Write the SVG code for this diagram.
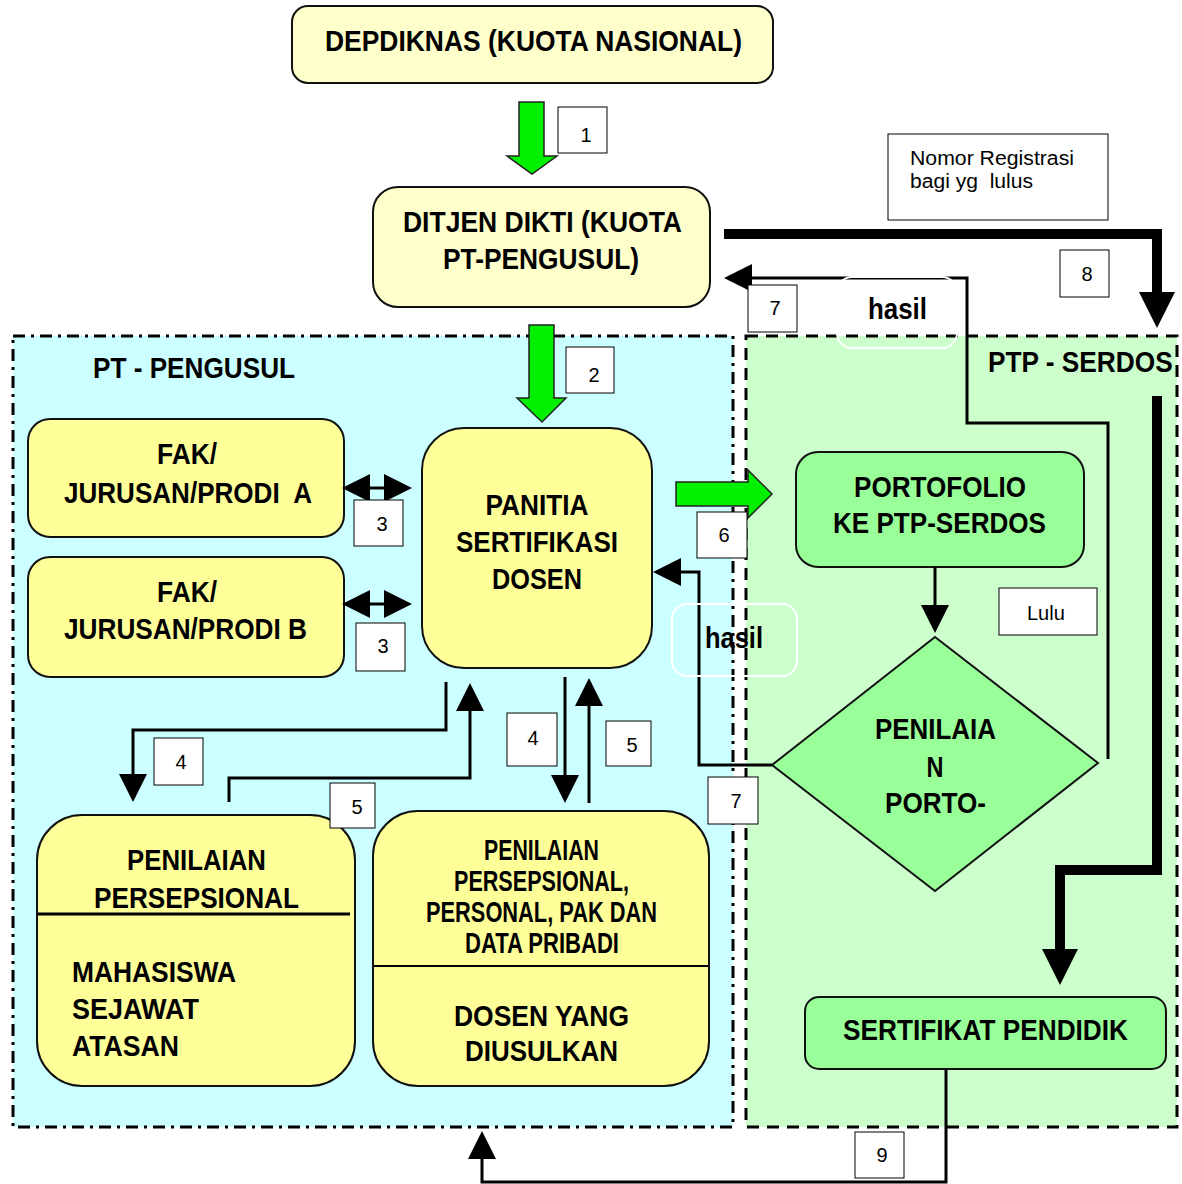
<svg xmlns="http://www.w3.org/2000/svg" width="1182" height="1184" viewBox="0 0 1182 1184">
<style>
.t{font-family:"Liberation Sans",Arial,sans-serif;font-weight:bold;font-size:30px;fill:#000;white-space:pre}
.s{font-family:"Liberation Sans",Arial,sans-serif;font-size:20px;fill:#000}
.lb{fill:#fff;stroke:#000;stroke-width:1}
.ny{fill:#FFFFCC;stroke:#111;stroke-width:2}
.y{fill:#FFFF99;stroke:#111;stroke-width:2}
.g{fill:#99FF99;stroke:#111;stroke-width:2}
.ln{fill:none;stroke:#000;stroke-width:3}
.thick{fill:none;stroke:#000;stroke-width:10}
.ga{fill:#00F000;stroke:#222;stroke-width:1.5}
.hb{fill:none;stroke:#fff;stroke-width:2}
</style>
<defs>
<marker id="ah" markerUnits="userSpaceOnUse" markerWidth="28" markerHeight="28" refX="24" refY="14" orient="auto-start-reverse" viewBox="0 0 28 28">
<path d="M0,0 L28,14 L0,28 z" fill="#000"/>
</marker>
<marker id="ahb" markerUnits="userSpaceOnUse" markerWidth="36" markerHeight="36" refX="26" refY="18" orient="auto" viewBox="0 0 36 36">
<path d="M0,0 L36,18 L0,36 z" fill="#000"/>
</marker>
</defs>

<g id="region-pt">
<rect x="13" y="336" width="720" height="791" fill="#CCFFFF" stroke="#000" stroke-width="3" stroke-dasharray="12,6,3,6"/>
<text class="t" x="93" y="378" font-size="29" textLength="202" lengthAdjust="spacingAndGlyphs">PT - PENGUSUL</text>
</g>
<g id="region-ptp">
<rect x="746" y="336" width="431" height="791" fill="#CCFFCC" stroke="#000" stroke-width="3" stroke-dasharray="12,8"/>
<text class="t" transform="translate(988,372) scale(0.875,1)" x="0" y="0" font-size="29">PTP - SERDOS</text>
</g>

<g id="node-depdiknas">
<rect class="ny" x="292" y="6" width="481" height="77" rx="16"/>
<text class="t" x="533.5" y="51" font-size="31" text-anchor="middle" textLength="417" lengthAdjust="spacingAndGlyphs">DEPDIKNAS (KUOTA NASIONAL)</text>
</g>
<g id="node-ditjen">
<rect class="ny" x="373" y="187" width="337" height="120" rx="25"/>
<text class="t" x="542.5" y="232" text-anchor="middle" textLength="279" lengthAdjust="spacingAndGlyphs">DITJEN DIKTI (KUOTA</text>
<text class="t" x="541" y="269" text-anchor="middle" textLength="196" lengthAdjust="spacingAndGlyphs">PT-PENGUSUL)</text>
</g>
<g id="node-nomor">
<rect class="lb" x="888" y="134" width="220" height="86"/>
<text class="s" x="910" y="165" font-size="19" textLength="164" lengthAdjust="spacingAndGlyphs">Nomor Registrasi</text>
<text class="s" x="910" y="188" font-size="19" textLength="123" lengthAdjust="spacingAndGlyphs" style="white-space:pre">bagi yg  lulus</text>
</g>
<g id="node-fak-a">
<rect class="y" x="28" y="419" width="316" height="118" rx="22"/>
<text class="t" x="187" y="464" text-anchor="middle" textLength="60" lengthAdjust="spacingAndGlyphs">FAK/</text>
<text class="t" x="64" y="503" textLength="248" lengthAdjust="spacingAndGlyphs">JURUSAN/PRODI  A</text>
</g>
<g id="node-fak-b">
<rect class="y" x="28" y="557" width="316" height="120" rx="22"/>
<text class="t" x="187" y="602" text-anchor="middle" textLength="60" lengthAdjust="spacingAndGlyphs">FAK/</text>
<text class="t" x="64" y="639" textLength="243" lengthAdjust="spacingAndGlyphs">JURUSAN/PRODI B</text>
</g>
<g id="node-panitia">
<rect class="y" x="422" y="428" width="230" height="240" rx="42"/>
<text class="t" x="537" y="515" text-anchor="middle" textLength="103" lengthAdjust="spacingAndGlyphs">PANITIA</text>
<text class="t" x="537" y="552" text-anchor="middle" textLength="162" lengthAdjust="spacingAndGlyphs">SERTIFIKASI</text>
<text class="t" x="537" y="589" text-anchor="middle" textLength="90" lengthAdjust="spacingAndGlyphs">DOSEN</text>
</g>
<g id="node-penilaian-persepsional">
<rect class="y" x="37" y="815" width="318" height="271" rx="45"/>
<line x1="38" y1="914" x2="350" y2="914" stroke="#000" stroke-width="3"/>
<text class="t" x="196.5" y="870" font-size="31" text-anchor="middle" textLength="139" lengthAdjust="spacingAndGlyphs">PENILAIAN</text>
<text class="t" x="196.5" y="908" font-size="31" text-anchor="middle" textLength="205" lengthAdjust="spacingAndGlyphs">PERSEPSIONAL</text>
<text class="t" x="72" y="982" font-size="31" textLength="164" lengthAdjust="spacingAndGlyphs">MAHASISWA</text>
<text class="t" x="72" y="1019" font-size="31" textLength="127" lengthAdjust="spacingAndGlyphs">SEJAWAT</text>
<text class="t" x="72" y="1056" font-size="31" textLength="107" lengthAdjust="spacingAndGlyphs">ATASAN</text>
</g>
<g id="node-dosen-diusulkan">
<rect class="y" x="373" y="811" width="336" height="275" rx="45"/>
<line x1="374" y1="966" x2="708" y2="966" stroke="#000" stroke-width="2"/>
<text class="t" x="541.5" y="860" font-size="24" text-anchor="middle" textLength="115" lengthAdjust="spacingAndGlyphs">PENILAIAN</text>
<text class="t" x="541.5" y="891" font-size="24" text-anchor="middle" textLength="175" lengthAdjust="spacingAndGlyphs">PERSEPSIONAL,</text>
<text class="t" x="541.5" y="922" font-size="24" text-anchor="middle" textLength="231" lengthAdjust="spacingAndGlyphs">PERSONAL, PAK DAN</text>
<text class="t" x="542" y="953" font-size="24" text-anchor="middle" textLength="154" lengthAdjust="spacingAndGlyphs">DATA PRIBADI</text>
<text class="t" x="541.5" y="1026" text-anchor="middle" textLength="175" lengthAdjust="spacingAndGlyphs">DOSEN YANG</text>
<text class="t" x="541.5" y="1061" text-anchor="middle" textLength="153" lengthAdjust="spacingAndGlyphs">DIUSULKAN</text>
</g>
<g id="node-portofolio">
<rect class="g" x="796" y="452" width="288" height="115" rx="22"/>
<text class="t" x="940" y="497" text-anchor="middle" textLength="172" lengthAdjust="spacingAndGlyphs">PORTOFOLIO</text>
<text class="t" x="939.5" y="533" text-anchor="middle" textLength="213" lengthAdjust="spacingAndGlyphs">KE PTP-SERDOS</text>
</g>
<g id="node-penilaian-porto">
<polygon class="g" points="935,637 1098,763 935,891 772,765"/>
<text class="t" x="935.5" y="739" text-anchor="middle" textLength="121" lengthAdjust="spacingAndGlyphs">PENILAIA</text>
<text class="t" x="935" y="777" text-anchor="middle" textLength="17" lengthAdjust="spacingAndGlyphs">N</text>
<text class="t" x="935.5" y="813" text-anchor="middle" textLength="101" lengthAdjust="spacingAndGlyphs">PORTO-</text>
</g>
<g id="node-sertifikat">
<rect class="g" x="805" y="997" width="361" height="72" rx="14"/>
<text class="t" x="843" y="1040" textLength="285" lengthAdjust="spacingAndGlyphs">SERTIFIKAT PENDIDIK</text>
</g>

<g id="connectors">
<polygon class="ga" points="519,102 544,102 544,156 557,156 532,174 507,156 519,156"/>
<polygon class="ga" points="529,325 554,325 554,398 566,398 542,422 517,398 529,398"/>
<polygon class="ga" points="676,482 748,482 748,470 772,494 748,518 748,506 676,506"/>
<path class="ln" d="M346,488 H408" marker-start="url(#ah)" marker-end="url(#ah)"/>
<path class="ln" d="M346,604 H408" marker-start="url(#ah)" marker-end="url(#ah)"/>
<path class="ln" d="M446,682 V730 H133 V798" marker-end="url(#ah)"/>
<path class="ln" d="M229,802 V778 H470 V687" marker-end="url(#ah)"/>
<path class="ln" d="M565,677 V799" marker-end="url(#ah)"/>
<path class="ln" d="M589,803 V682" marker-end="url(#ah)"/>
<path class="ln" d="M772,765 H699 V572 H657" marker-end="url(#ah)"/>
<path class="ln" d="M1108,759 V423 H967 V278 H728" marker-end="url(#ah)"/>
<path class="ln" d="M935,567 V629" marker-end="url(#ah)"/>
<path class="ln" d="M946,1069 V1182 H482 V1135" marker-end="url(#ah)"/>
<path class="thick" d="M724,234 H1157 V318" marker-end="url(#ahb)"/>
<path class="thick" d="M1157,396 V870 H1060 V975" marker-end="url(#ahb)"/>
</g>

<g id="labels">
<rect class="lb" x="558" y="107" width="49" height="46"/><text class="s" x="586" y="142" font-size="25" text-anchor="middle">1</text>
<rect class="lb" x="566" y="347" width="48" height="46"/><text class="s" x="594" y="382" font-size="25" text-anchor="middle">2</text>
<rect class="lb" x="354" y="500" width="49" height="46"/><text class="s" x="382" y="531" text-anchor="middle">3</text>
<rect class="lb" x="356" y="623" width="49" height="48"/><text class="s" x="383" y="653" text-anchor="middle">3</text>
<rect class="lb" x="154" y="738" width="49" height="47"/><text class="s" x="181" y="769" text-anchor="middle">4</text>
<rect class="lb" x="330" y="783" width="45" height="45"/><text class="s" x="357" y="814" text-anchor="middle">5</text>
<rect class="lb" x="507" y="713" width="50" height="53"/><text class="s" x="533" y="745" text-anchor="middle">4</text>
<rect class="lb" x="606" y="721" width="45" height="45"/><text class="s" x="632" y="752" text-anchor="middle">5</text>
<rect class="lb" x="697" y="512" width="50" height="46"/><text class="s" x="724" y="542" text-anchor="middle">6</text>
<rect class="lb" x="748" y="285" width="49" height="47"/><text class="s" x="775" y="315" text-anchor="middle">7</text>
<rect class="lb" x="708" y="777" width="50" height="47"/><text class="s" x="736" y="808" text-anchor="middle">7</text>
<rect class="lb" x="1060" y="250" width="49" height="47"/><text class="s" x="1087" y="281" text-anchor="middle">8</text>
<rect class="lb" x="855" y="1132" width="49" height="46"/><text class="s" x="882" y="1162" text-anchor="middle">9</text>
<rect class="lb" x="999" y="588" width="98" height="47"/><text class="s" x="1027" y="620">Lulu</text>
<rect class="hb" x="837" y="277" width="120" height="71" rx="15"/>
<text class="t" x="868" y="319" textLength="59" lengthAdjust="spacingAndGlyphs">hasil</text>
<rect class="hb" x="672" y="604" width="125" height="72" rx="15"/>
<text class="t" x="705" y="648" textLength="58" lengthAdjust="spacingAndGlyphs">hasil</text>
</g>
</svg>
